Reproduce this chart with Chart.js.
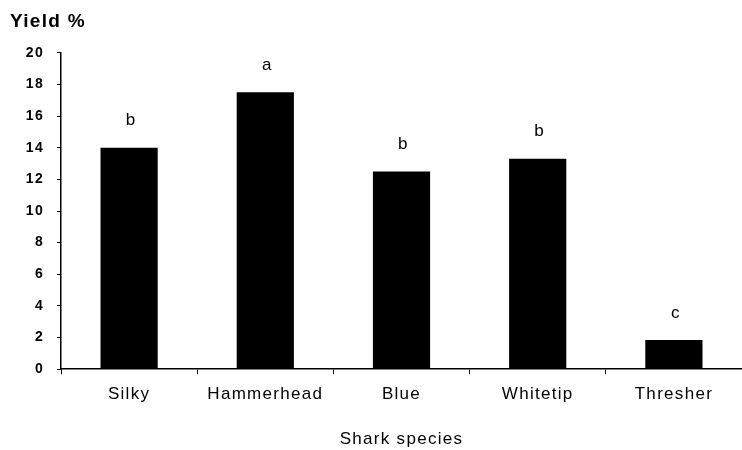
<!DOCTYPE html>
<html>
<head>
<meta charset="utf-8">
<script src="https://cdn.jsdelivr.net/npm/chart.js@4/dist/chart.umd.min.js"></script>
<style>
  html, body { margin: 0; padding: 0; background: #fff; }
  #wrap { width: 742px; height: 450px; }
</style>
</head>
<body>
<div id="wrap"><canvas id="myChart" width="742" height="450"></canvas></div>
<script>
const species = ['Silky', 'Hammerhead', 'Blue', 'Whitetip', 'Thresher'];
const yieldValues = [14.0, 17.5, 12.5, 13.3, 1.85];
const groupLetters = ['b', 'a', 'b', 'b', 'c'];
const yTicks = [0, 2, 4, 6, 8, 10, 12, 14, 16, 18, 20];

const fontName = '"Liberation Sans", Arial, sans-serif';

// scanned figure has wide letter spacing
const spacingPlugin = {
    id: 'spacing',
    beforeDraw(chart) {
        chart.ctx.letterSpacing = '1.3px';
    }
};

// letters over each bar
const letterPlugin = {
    id: 'letters',
    afterDatasetsDraw(chart) {
        const ctx = chart.ctx;
        const meta = chart.getDatasetMeta(0);
        ctx.save();
        ctx.fillStyle = '#000';
        ctx.font = '17px ' + fontName;
        ctx.textAlign = 'center';
        ctx.textBaseline = 'middle';
        meta.data.forEach((bar, i) => {
            ctx.fillText(groupLetters[i], bar.x + 2, bar.y - 27);
        });
        ctx.restore();
    }
};

const ctx = document.getElementById("myChart").getContext("2d");
const myChart = new Chart(ctx, {
    type: 'bar',
    data: {
        labels: species,
        datasets: [{
            data: yieldValues,
            backgroundColor: '#000',
            borderWidth: 0,
            categoryPercentage: 1,
            barPercentage: 0.42
        }]
    },
    options: {
        responsive: false,
        animation: false,
        layout: { padding: { left: 10, right: 0, top: 0, bottom: 0 } },
        plugins: {
            legend: { display: false },
            tooltip: { enabled: false },
            title: {
                display: true,
                text: 'Yield %',
                align: 'start',
                color: '#000',
                font: { family: fontName, size: 19 },
                padding: { top: 10, bottom: 20 }
            }
        },
        scales: {
            x: {
                offset: true,
                border: { color: '#000', width: 1.5 },
                grid: { display: true, drawOnChartArea: false, drawTicks: true, tickLength: 5, color: '#000', offset: true },
                ticks: { color: '#000', font: { family: fontName, size: 17 }, padding: 10 },
                title: {
                    display: true,
                    text: 'Shark species',
                    color: '#000',
                    font: { family: fontName, size: 17 },
                    padding: { top: 15, bottom: 0 }
                }
            },
            y: {
                min: 0,
                max: 20,
                afterBuildTicks(scale) {
                    scale.ticks = yTicks.map(v => ({ value: v }));
                },
                afterFit(scale) {
                    scale.width = 51;
                },
                border: { color: '#000', width: 1.5 },
                grid: { display: true, drawOnChartArea: false, drawTicks: true, tickLength: 4, color: '#000' },
                ticks: { color: '#000', font: { family: fontName, size: 14, weight: 'bold' }, padding: 13 }
            }
        }
    },
    plugins: [spacingPlugin, letterPlugin]
});
</script>
</body>
</html>
